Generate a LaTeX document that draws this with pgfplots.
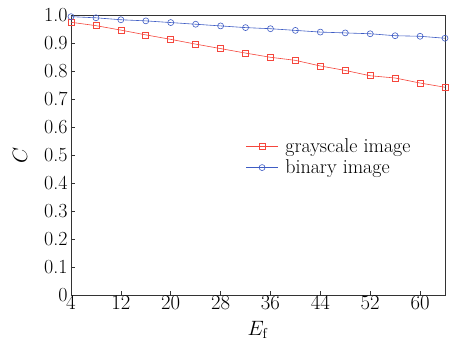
\documentclass[border=0pt]{standalone}
\usepackage{pgfplots}
\pgfplotsset{compat=1.18}
\definecolor{myred}{RGB}{245,70,60}
\definecolor{myblue}{RGB}{62,92,196}
\begin{document}
\begin{tikzpicture}
\begin{axis}[name=ax,
  scale only axis, width=374pt, height=280pt,
  xmin=4, xmax=64, ymin=0, ymax=1,
  xtick={4,12,20,28,36,44,52,60},
  ytick={0,0.1,0.2,0.3,0.4,0.5,0.6,0.7,0.8,0.9,1.0},
  yticklabels={0,0.1,0.2,0.3,0.4,0.5,0.6,0.7,0.8,0.9,1.0},
  tick align=inside, xtick pos=left, ytick pos=left,
  major tick length=4pt,
  tick label style={font=\fontsize{20}{22}\selectfont},
  xticklabel style={yshift=2pt},
  label style={font=\fontsize{21}{23}\selectfont},
  xlabel={$E_{\mathrm{f}}$}, ylabel={$C$},
  xlabel style={at={(axis description cs:0.5,-0.125)},anchor=center},
  ylabel style={at={(axis description cs:-0.136,0.5)},anchor=center},
  axis line style={black!80, line width=0.8pt},
  every tick/.style={black!80, line width=0.6pt},
  legend style={at={(0.467,0.565)}, anchor=north west, draw=none, fill=none,
    font=\fontsize{20}{20}\selectfont, row sep=1.5pt, inner sep=0pt,
    /tikz/every odd column/.append style={column sep=5pt}},
  legend cell align=left,
  legend image code/.code={\draw[mark repeat=2,mark phase=2] plot coordinates {(0cm,0cm)(0.56cm,0cm)(1.12cm,0cm)};},
  clip=false,
]
\addplot[myred, line width=0.6pt, mark=square, mark size=3pt, mark options={solid}] coordinates {
(4,0.974)(8,0.962)(12,0.946)(16,0.929)(20,0.913)(24,0.896)(28,0.880)(32,0.864)
(36,0.849)(40,0.838)(44,0.818)(48,0.802)(52,0.783)(56,0.775)(60,0.757)(64,0.742)};
\addlegendentry{grayscale image}
\addplot[myblue, line width=0.6pt, mark=o, mark size=3pt] coordinates {
(4,0.994)(8,0.990)(12,0.983)(16,0.979)(20,0.973)(24,0.967)(28,0.961)(32,0.955)
(36,0.951)(40,0.945)(44,0.939)(48,0.936)(52,0.933)(56,0.926)(60,0.924)(64,0.917)};
\addlegendentry{binary image}
\end{axis}
\useasboundingbox ([xshift=-71pt,yshift=-55pt]ax.south west) rectangle ([xshift=12pt,yshift=15pt]ax.north east);
\end{tikzpicture}
\end{document}
